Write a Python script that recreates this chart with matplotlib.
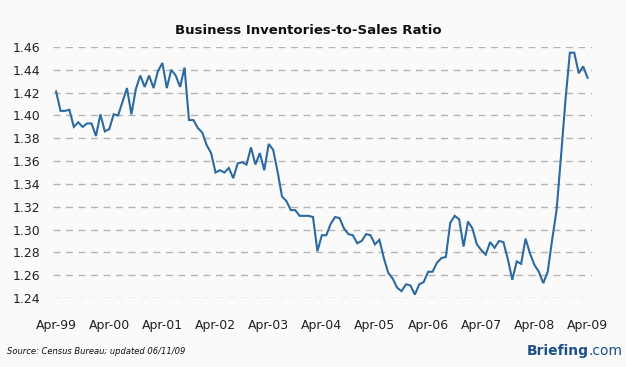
import matplotlib.pyplot as plt
import numpy as np

# monthly inventories-to-sales ratio, Apr-1999 .. Apr-2009
ratio = [
    1.421, 1.404, 1.404, 1.405, 1.390, 1.394, 1.390, 1.393, 1.393, 1.382,
    1.401, 1.386, 1.388, 1.401, 1.400, 1.412, 1.424, 1.401, 1.423, 1.435,
    1.425, 1.435, 1.424, 1.439, 1.446, 1.424, 1.440, 1.435, 1.425, 1.442,
    1.396, 1.396, 1.389, 1.385, 1.374, 1.367, 1.350, 1.352, 1.350, 1.354,
    1.345, 1.358, 1.359, 1.357, 1.372, 1.357, 1.367, 1.352, 1.375, 1.370,
    1.351, 1.329, 1.325, 1.317, 1.317, 1.312, 1.312, 1.312, 1.311, 1.281,
    1.295, 1.295, 1.305, 1.311, 1.310, 1.301, 1.296, 1.295, 1.288, 1.290,
    1.296, 1.295, 1.287, 1.291, 1.275, 1.262, 1.257, 1.249, 1.246, 1.252,
    1.251, 1.243, 1.252, 1.254, 1.263, 1.263, 1.271, 1.275, 1.276, 1.306,
    1.312, 1.309, 1.285, 1.307, 1.301, 1.287, 1.282, 1.278, 1.289, 1.284,
    1.290, 1.289, 1.274, 1.256, 1.272, 1.270, 1.292, 1.279, 1.269, 1.263,
    1.253, 1.263, 1.291, 1.317, 1.364, 1.413, 1.455, 1.455, 1.437, 1.443,
    1.433,
]
tick_labels = ['Apr-99', 'Apr-00', 'Apr-01', 'Apr-02', 'Apr-03', 'Apr-04',
               'Apr-05', 'Apr-06', 'Apr-07', 'Apr-08', 'Apr-09']
y_ticks = [1.24, 1.26, 1.28, 1.30, 1.32, 1.34, 1.36, 1.38, 1.40, 1.42, 1.44, 1.46]

bg = '#fafafa'
fig = plt.figure(figsize=(6.26, 3.67), dpi=100, facecolor=bg)
ax = fig.add_axes([53 / 626, 1 - 298 / 367, (592 - 53) / 626, (298 - 47) / 367])
ax.set_facecolor(bg)

months = np.arange(len(ratio))
ax.plot(months, ratio, color='#2d6a9f', lw=1.5, solid_joinstyle='miter')

ax.set_xlim(-0.7, 121.0)
ax.set_ylim(1.24, 1.46)
ax.set_yticks(y_ticks)
ax.set_yticklabels(['%.2f' % v for v in y_ticks])
ax.set_xticks(np.arange(0, len(ratio), 12))
ax.set_xticklabels(tick_labels)
ax.tick_params(length=0, labelsize=9, colors='#222222')
ax.tick_params(axis='y', pad=9)
ax.tick_params(axis='x', pad=15)
ax.grid(axis='y', color='#b4b4b4', ls=(0, (5, 4)), lw=1)
ax.set_axisbelow(True)
for s in ax.spines.values():
    s.set_visible(False)

fig.text(308 / 626, 1 - 30 / 367, 'Business Inventories-to-Sales Ratio',
         ha='center', va='center', fontsize=9.5, fontweight='bold', color='#111111')
fig.text(7 / 626, 1 - 352 / 367, 'Source: Census Bureau; updated 06/11/09',
         ha='left', va='center', fontsize=6, style='italic', color='#111111')
fig.text(589 / 626, 1 - 351 / 367, 'Briefing', ha='right', va='center',
         fontsize=10, fontweight='bold', color='#1d4f8a')
fig.text(589 / 626, 1 - 351 / 367, '.com', ha='left', va='center',
         fontsize=10, color='#1d4f8a')

fig.savefig('out.png', dpi=100, facecolor=bg)
